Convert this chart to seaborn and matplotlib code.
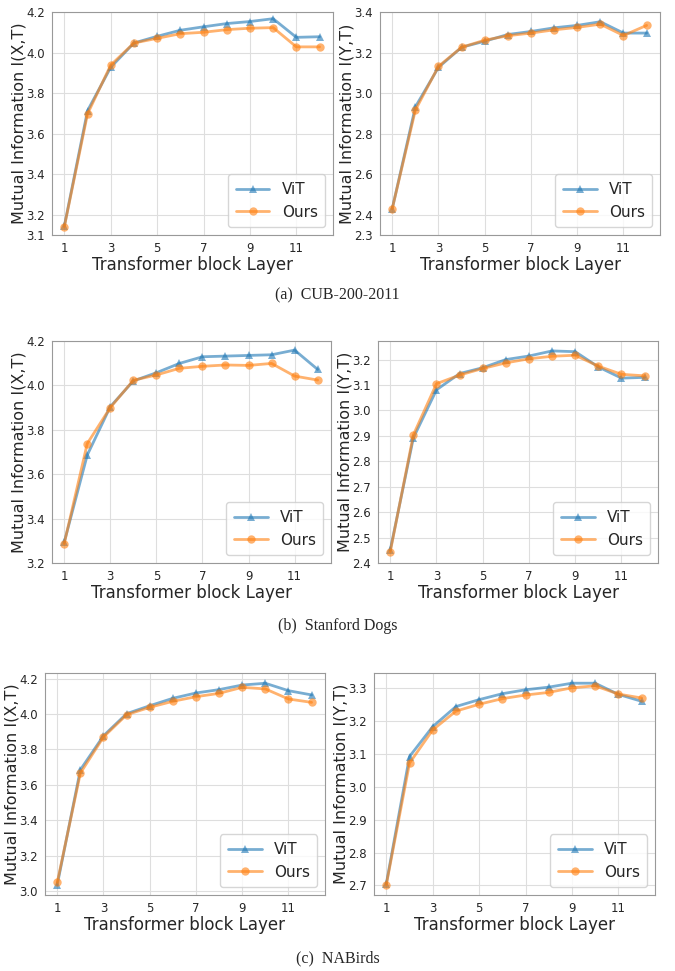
import numpy as np
import pandas as pd
import matplotlib
matplotlib.use("Agg")
import matplotlib.pyplot as plt
import seaborn as sns

layers = list(range(1, 13))

# CUB-200-2011
cub_x_vit = [3.143, 3.713, 3.927, 4.047, 4.080, 4.110, 4.127, 4.143, 4.153, 4.167, 4.075, 4.078]
cub_x_ours = [3.140, 3.697, 3.938, 4.047, 4.070, 4.093, 4.100, 4.113, 4.120, 4.123, 4.028, 4.028]
cub_y_vit = [2.430, 2.932, 3.127, 3.226, 3.256, 3.289, 3.304, 3.322, 3.334, 3.352, 3.296, 3.296]
cub_y_ours = [2.430, 2.916, 3.132, 3.226, 3.261, 3.283, 3.296, 3.312, 3.324, 3.340, 3.284, 3.334]

# Stanford Dogs
dog_x_vit = [3.293, 3.686, 3.904, 4.020, 4.057, 4.099, 4.129, 4.132, 4.135, 4.138, 4.159, 4.072]
dog_x_ours = [3.287, 3.738, 3.900, 4.023, 4.047, 4.077, 4.086, 4.092, 4.090, 4.099, 4.042, 4.024]
dog_y_vit = [2.451, 2.892, 3.081, 3.145, 3.168, 3.200, 3.214, 3.234, 3.231, 3.171, 3.127, 3.130]
dog_y_ours = [2.444, 2.904, 3.105, 3.139, 3.165, 3.187, 3.203, 3.213, 3.217, 3.174, 3.142, 3.136]

# NABirds
nab_x_vit = [3.035, 3.685, 3.877, 4.002, 4.047, 4.089, 4.119, 4.138, 4.164, 4.174, 4.132, 4.108]
nab_x_ours = [3.048, 3.666, 3.870, 3.996, 4.038, 4.072, 4.098, 4.117, 4.151, 4.142, 4.085, 4.066]
nab_y_vit = [2.705, 3.092, 3.183, 3.244, 3.265, 3.283, 3.295, 3.303, 3.315, 3.315, 3.281, 3.260]
nab_y_ours = [2.702, 3.072, 3.173, 3.230, 3.251, 3.268, 3.279, 3.287, 3.301, 3.307, 3.282, 3.270]

captions = ["(a)  CUB-200-2011", "(b)  Stanford Dogs", "(c)  NABirds"]

sns.set_style("whitegrid", {"axes.edgecolor": "0.6", "grid.color": "0.87"})
plt.rcParams["font.family"] = ["DejaVu Sans"]

W, H = 675, 971
fig = plt.figure(figsize=(W / 100, H / 100), dpi=100)


def box(l, t, r, b):
    return [l / W, 1 - b / H, (r - l) / W, (b - t) / H]


panels = [
    (box(52, 12, 333, 235), cub_x_vit, cub_x_ours, "Mutual Information I(X,T)", (3.1, 4.2),
     [3.1, 3.2, 3.4, 3.6, 3.8, 4.0, 4.2]),
    (box(380, 12, 660, 235), cub_y_vit, cub_y_ours, "Mutual Information I(Y,T)", (2.3, 3.4),
     [2.3, 2.4, 2.6, 2.8, 3.0, 3.2, 3.4]),
    (box(52, 341, 331, 563), dog_x_vit, dog_x_ours, "Mutual Information I(X,T)", (3.2, 4.2),
     [3.2, 3.4, 3.6, 3.8, 4.0, 4.2]),
    (box(378, 341, 658, 563), dog_y_vit, dog_y_ours, "Mutual Information I(Y,T)", (2.4, 3.273),
     [2.4, 2.5, 2.6, 2.7, 2.8, 2.9, 3.0, 3.1, 3.2]),
    (box(45, 673, 325, 895), nab_x_vit, nab_x_ours, "Mutual Information I(X,T)", (2.977, 4.232),
     [3.0, 3.2, 3.4, 3.6, 3.8, 4.0, 4.2]),
    (box(374, 673, 655, 895), nab_y_vit, nab_y_ours, "Mutual Information I(Y,T)", (2.671, 3.346),
     [2.7, 2.8, 2.9, 3.0, 3.1, 3.2, 3.3]),
]

for rect, vit, ours, ylab, ylim, yticks in panels:
    ax = fig.add_axes(rect)
    sns.lineplot(x=layers, y=vit, ax=ax, color="tab:blue", alpha=0.6, marker="^",
                 markersize=6, linewidth=2, markeredgewidth=0, label="ViT")
    sns.lineplot(x=layers, y=ours, ax=ax, color="tab:orange", alpha=0.6, marker="o",
                 markersize=6, linewidth=2, markeredgewidth=0, label="Ours")
    ax.set_xlim(0.47, 12.58)
    ax.set_ylim(*ylim)
    ax.set_xticks([1, 3, 5, 7, 9, 11])
    ax.set_yticks(yticks)
    ax.set_yticklabels([f"{v:.1f}" for v in yticks])
    ax.tick_params(labelsize=8.5, pad=1.5)
    ax.set_xlabel("Transformer block Layer", fontsize=12, labelpad=1)
    ax.set_ylabel(ylab, fontsize=11.5, labelpad=0)
    ax.legend(loc="lower right", fontsize=11, handlelength=2.2, borderpad=0.5)

for y, cap in zip([295, 626, 958], captions):
    fig.text(0.5, 1 - y / H, cap, ha="center", va="center", fontsize=11.5,
             family=["Liberation Serif", "DejaVu Serif"])

fig.savefig("out.png", dpi=100)
